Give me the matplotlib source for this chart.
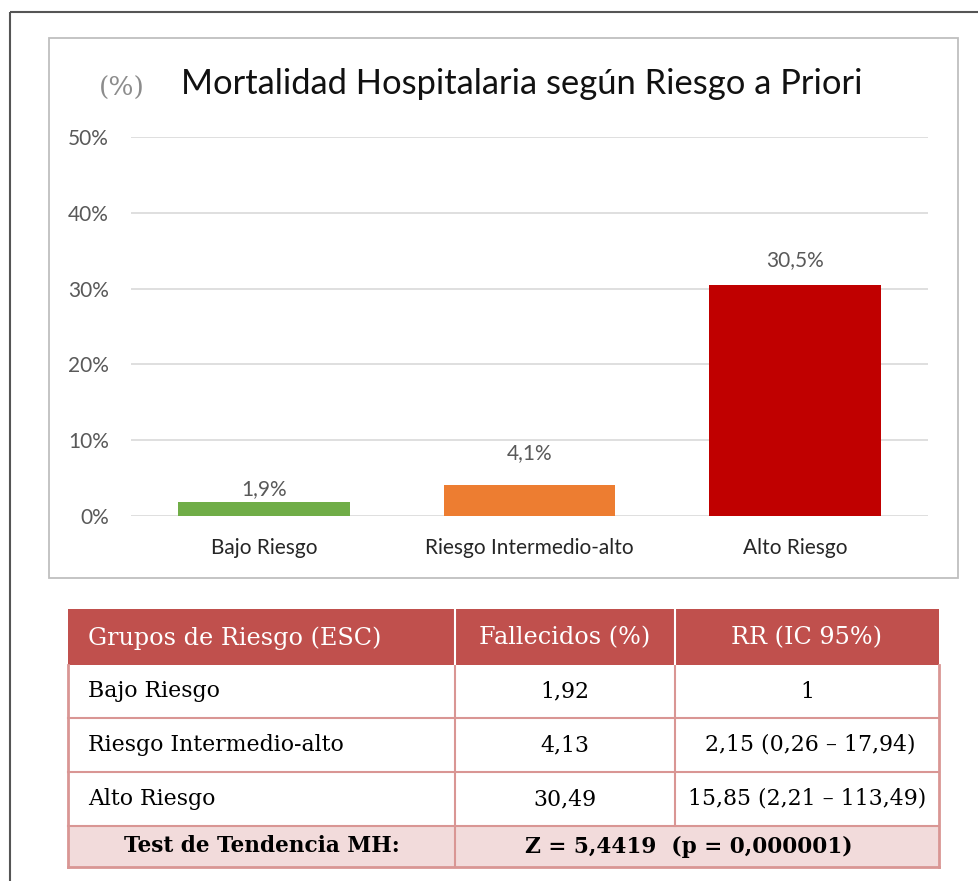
import matplotlib
matplotlib.use('Agg')
import matplotlib.pyplot as plt
from matplotlib.patches import Rectangle

# datos del grafico
grupos = ['Bajo Riesgo', 'Riesgo Intermedio-alto', 'Alto Riesgo']
mortalidad = [1.9, 4.1, 30.5]
etiquetas = ['1,9%', '4,1%', '30,5%']
colores = ['#70AD47', '#ED7D31', '#C00000']
desfase_etiqueta = [9, 23, 18]   # pt sobre la barra (colocadas a mano en el original)
yticks = [0, 10, 20, 30, 40, 50]

# datos de la tabla
cabecera = ['Grupos de Riesgo (ESC)', 'Fallecidos (%)', 'RR (IC 95%)']
filas = [['Bajo Riesgo', '1,92', '1'],
         ['Riesgo Intermedio-alto', '4,13', ' 2,15 (0,26 \u2013 17,94)'],
         ['Alto Riesgo', '30,49', '15,85 (2,21 \u2013 113,49)']]
pie = ['Test de Tendencia MH:', 'Z = 5,4419  (p = 0,000001)']

W, H = 979, 881
fig = plt.figure(figsize=(W / 100, H / 100), dpi=100)

# capa de fondo en pixeles
bg = fig.add_axes([0, 0, 1, 1])
bg.set_xlim(0, W)
bg.set_ylim(H, 0)
bg.axis('off')
bg.plot([10, W], [12, 12], color='#555555', lw=1.5, solid_capstyle='butt')
bg.plot([10, 10], [12, H], color='#555555', lw=1.5, solid_capstyle='butt')
bg.add_patch(Rectangle((49, 38), 909, 540, fill=False, ec='#BFBFBF', lw=1.3))

sans = 'Lato'
serif = 'DejaVu Serif'

bg.text(522, 84, 'Mortalidad Hospitalaria según Riesgo a Priori', ha='center', va='center',
        fontsize=24.8, family=sans, color='#111111')
bg.text(122, 88, '(%)', ha='center', va='center', fontsize=19, family=serif, color='#8C8C8C')

# grafico de barras
fs = 15
ax = fig.add_axes([131 / W, 1 - 516 / H, 797 / W, (516 - 137) / H])
x = range(len(grupos))
ax.bar(x, mortalidad, width=0.647, color=colores, zorder=3)
ax.set_xlim(-0.5, 2.5)
ax.set_ylim(0, 50)
ax.set_yticks(yticks)
ax.set_yticklabels([f'{t}%' for t in yticks], family=sans, fontsize=fs, color='#595959')
ax.set_xticks(list(x))
ax.set_xticklabels(grupos, family=sans, fontsize=fs, color='#262626')
ax.tick_params(axis='y', length=0, pad=16)
ax.tick_params(axis='x', length=0, pad=16)
ax.grid(axis='y', color='#D9D9D9', lw=1.2, zorder=0)
for s in ax.spines.values():
    s.set_visible(False)
ax.patch.set_alpha(0)
for i, v in enumerate(mortalidad):
    ax.annotate(etiquetas[i], (i, v), xytext=(0, desfase_etiqueta[i]), textcoords='offset points',
                ha='center', va='center', family=sans, fontsize=fs, color='#595959')

# tabla
xs = [68, 455, 675, 939]
ys = [609, 665, 718, 772, 826, 867]
rojo = '#C0504D'
borde = '#D99694'
bg.add_patch(Rectangle((xs[0], ys[0]), xs[3] - xs[0], ys[1] - ys[0], color=rojo, lw=0))
bg.add_patch(Rectangle((xs[0], ys[4]), xs[3] - xs[0], ys[5] - ys[4], color='#F2DBDB', lw=0))
for yy in ys[2:5]:
    bg.plot([xs[0], xs[3]], [yy, yy], color=borde, lw=1.5)
bg.plot([xs[0], xs[3]], [ys[5], ys[5]], color=borde, lw=2)
bg.plot([xs[0], xs[0]], [ys[1], ys[5]], color=borde, lw=2)
bg.plot([xs[3], xs[3]], [ys[1], ys[5]], color=borde, lw=2)
bg.plot([xs[1], xs[1]], [ys[1], ys[5]], color=borde, lw=1.5)
bg.plot([xs[2], xs[2]], [ys[1], ys[4]], color=borde, lw=1.5)
for xx in xs[1:3]:
    bg.plot([xx, xx], [ys[0] + 1, ys[1] - 1], color='white', lw=1.5)

cx = [88, (xs[1] + xs[2]) / 2, (xs[2] + xs[3]) / 2]
ha = ['left', 'center', 'center']
for j, t in enumerate(cabecera):
    bg.text(cx[j], (ys[0] + ys[1]) / 2 + 1, t, ha=ha[j], va='center', family=serif,
            fontsize=17.2, color='white')
for i, fila in enumerate(filas):
    yc = (ys[i + 1] + ys[i + 2]) / 2
    for j, t in enumerate(fila):
        bg.text(cx[j], yc, t, ha=ha[j], va='center', family=serif, fontsize=15.8, color='black')
yc = (ys[4] + ys[5]) / 2
bg.text((xs[0] + xs[1]) / 2, yc, pie[0], ha='center', va='center', family=serif,
        fontsize=15.6, fontweight='bold', color='black')
bg.text((xs[1] + xs[3]) / 2 - 8, yc, pie[1], ha='center', va='center', family=serif,
        fontsize=15.6, fontweight='bold', color='black')

fig.savefig('out.png', dpi=100)
